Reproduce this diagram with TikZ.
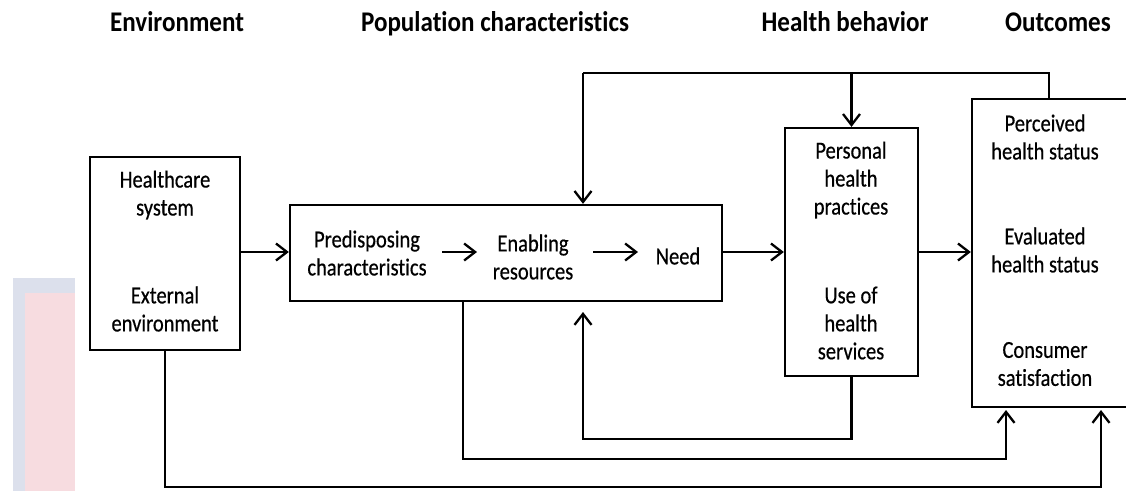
\documentclass[tikz,border=0pt]{standalone}
\usepackage{fontspec}
\setmainfont{Carlito}[Ligatures=NoCommon]
\newfontfamily\bodyfont{Carlito}[FakeStretch=0.84, FakeBold=0.5, Ligatures=NoCommon]
\newfontfamily\hdrfont{Carlito Bold}[FakeStretch=0.88, Ligatures=NoCommon]
\usetikzlibrary{arrows.meta}
\definecolor{bgblue}{HTML}{DCE0EC}
\definecolor{bgpink}{HTML}{F7DCE0}
\begin{document}
\begin{tikzpicture}[x=1pt,y=-1pt,
  box/.style={draw=black, line width=2.3pt, fill=white, inner sep=0pt},
  lbl/.style={align=center, font=\bodyfont\fontsize{24.4}{28}\selectfont, inner sep=0pt},
  hdr/.style={font=\hdrfont\fontsize{28.5}{30}\selectfont, inner sep=0pt, anchor=base},
  conn/.style={line width=2.3pt, line join=miter},
  arr/.style={conn, -{Straight Barb[length=11pt,width=17pt,line width=2.3pt]}}
]
\useasboundingbox (0,0) rectangle (1126,491);
% faint background artefact
\fill[bgblue] (13,278) rectangle (75,491);
\fill[bgpink] (25,293) rectangle (75,491);

% headers
\node[hdr] (h1) at (177,31) {Environment};
\node[hdr] (h2) at (495,31) {Population characteristics};
\node[hdr] (h3) at (845,31) {Health behavior};
\node[hdr] (h4) at (1058,31) {Outcomes};

% boxes
\node[box, minimum width=150pt, minimum height=193pt] (env) at (165,253.5) {};
\node[box, minimum width=432pt, minimum height=96pt] (pop) at (506,253) {};
\node[box, minimum width=133pt, minimum height=248pt] (hb) at (851.5,252) {};
\node[box, minimum width=158pt, minimum height=308pt] (out) at (1051,253) {};

% texts
\node[lbl] (hcs) at (165,195) {Healthcare\\system};
\node[lbl] (ext) at (165,309) {External\\environment};
\node[lbl] (pred) at (367,253) {Predisposing\\characteristics};
\node[lbl] (enab) at (533,257) {Enabling\\resources};
\node[lbl] (need) at (678,256) {Need};
\node[lbl] (php) at (851,180) {Personal\\health\\practices};
\node[lbl] (use) at (851,323) {Use of\\health\\services};
\node[lbl] (phs) at (1045,137) {Perceived\\health status};
\node[lbl] (ehs) at (1045,250) {Evaluated\\health status};
\node[lbl] (cs) at (1045,364) {Consumer\\satisfaction};

% main flow
\draw[arr] (env.east |- 0,252) -- (pop.west |- 0,252);
\draw[arr] (pop.east |- 0,252) -- (hb.west |- 0,252);
\draw[arr] (hb.east |- 0,252) -- (out.west |- 0,252);
\coordinate (a1s) at (442,252);
\coordinate (a1e) at (477,252);
\coordinate (a2s) at (593,252);
\coordinate (a2e) at (638,252);
\draw[arr] (a1s) -- (a1e);
\draw[arr] (a2s) -- (a2e);

% top feedback
\coordinate (topL) at (583,73);
\coordinate (topR) at (1049,73);
\draw[conn] (topR |- out.north) -- (topR) -- (topL);
\draw[arr] (topL) -- (topL |- pop.north);
\draw[arr] (hb.north |- topL) -- (hb.north);

% bottom feedback
\coordinate (pin) at (583,312);
\draw[arr] (hb.south) -- (hb.south |- 0,439) -- (pin |- 0,439) -- (pin);
\coordinate (popdown) at (463,301);
\draw[arr] (popdown) -- (463,459) -- (1006,459) -- (1006,410);
\draw[arr] (env.south) -- (env.south |- 0,487) -- (1101,487) -- (1101,410);
\end{tikzpicture}
\end{document}
